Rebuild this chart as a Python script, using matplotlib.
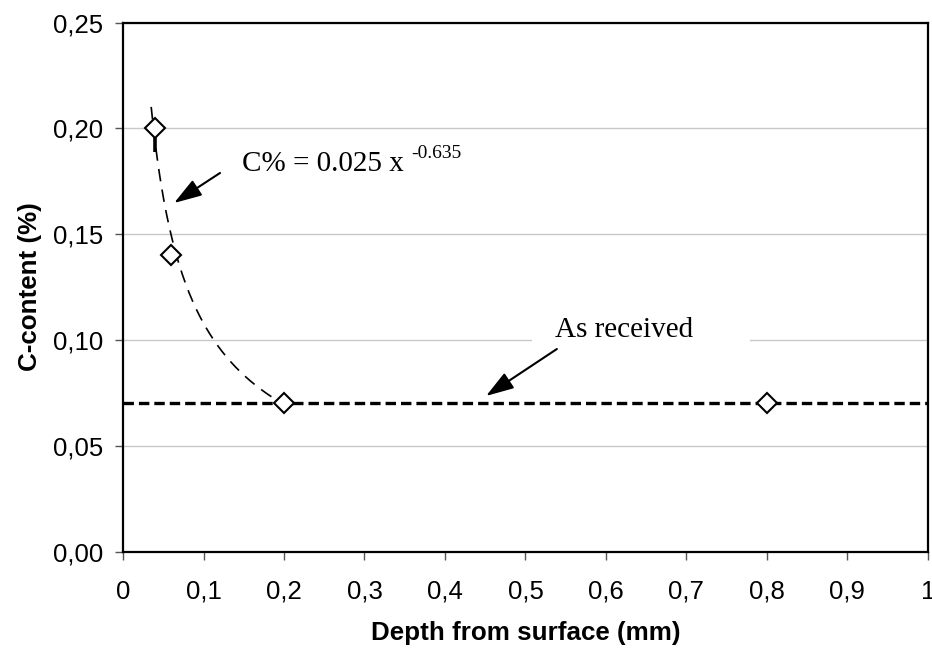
import matplotlib
matplotlib.use("Agg")
import matplotlib.pyplot as plt
import numpy as np
from matplotlib.patches import Rectangle

depth = [0.04, 0.06, 0.2, 0.8]            # mm
carbon = [0.20, 0.14, 0.07, 0.07]         # C-content %
err_low = [0.011, 0, 0, 0]                # lower error bar
as_received = 0.07
fit_a, fit_b = 0.025, -0.635              # C% = a * x^b
fit_range = [0.035, 0.2]
x_ticks = [0, 0.1, 0.2, 0.3, 0.4, 0.5, 0.6, 0.7, 0.8, 0.9, 1]
y_ticks = [0, 0.05, 0.10, 0.15, 0.20, 0.25]

plt.rcParams['font.family'] = ['Liberation Sans', 'DejaVu Sans']
plt.rcParams['lines.scale_dashes'] = False

fig = plt.figure(figsize=(9.32, 6.51), dpi=100)
ax = fig.add_axes([0.132, 0.1528, 0.8636, 0.8126])

ax.set_xlim(0, 1)
ax.set_ylim(0, 0.25)
ax.set_yticks(y_ticks)
ax.set_xticks(x_ticks)
ax.set_yticklabels([("%.2f" % v).replace('.', ',') for v in y_ticks])
ax.set_xticklabels([("%g" % v).replace('.', ',') for v in x_ticks])
ax.tick_params(labelsize=18.5, length=5.5, width=1, color='#555555')
ax.tick_params(axis='x', pad=15)
ax.tick_params(axis='y', pad=9)
for s in ax.spines.values():
    s.set_linewidth(1.6)
ax.yaxis.grid(True, color='#c8c8c8', linewidth=1)
ax.set_axisbelow(True)

# white box behind "As received"
ax.add_patch(Rectangle((0.508, 0.092), 0.271, 0.016, facecolor='white',
                       edgecolor='none', zorder=1.5))

# fitted power curve
xf = np.linspace(fit_range[0], fit_range[1], 200)
ax.plot(xf, fit_a * xf ** fit_b, color='black', linewidth=1.2,
        dashes=(9, 6), zorder=2)

# as received level
ax.axhline(as_received, color='black', linewidth=2.4, dashes=(7.5, 3.6), zorder=2)

# error bar
for x, y, e in zip(depth, carbon, err_low):
    if e > 0:
        ax.vlines(x, y - e, y, color='black', linewidth=2.6, zorder=3)

ax.plot(depth, carbon, linestyle='none', marker='D', markersize=10.5,
        markerfacecolor='white', markeredgecolor='black', markeredgewidth=1.5,
        zorder=4)

serif = ['Liberation Serif', 'DejaVu Serif']
ax.text(0.148, 0.1798, 'C% = 0.025 x ', fontsize=21, family=serif, zorder=5)
ax.text(0.358, 0.186, '-0.635', fontsize=14, family=serif, zorder=5)
ax.text(0.537, 0.1014, 'As received', fontsize=21, family=serif, zorder=5)

arrow = dict(arrowstyle='-|>,head_length=1.7,head_width=0.55', color='black',
             linewidth=1.5, shrinkA=0, shrinkB=0)
ax.annotate('', xy=(0.0634, 0.1647), xytext=(0.1205, 0.1789), arrowprops=arrow)
ax.annotate('', xy=(0.451, 0.0735), xytext=(0.539, 0.0957), arrowprops=arrow)

ax.set_xlabel('Depth from surface (mm)', fontsize=18.7, fontweight='bold', labelpad=12)
ax.set_ylabel('C-content (%)', fontsize=18.7, fontweight='bold', labelpad=8)

fig.savefig('out.png', dpi=100)
